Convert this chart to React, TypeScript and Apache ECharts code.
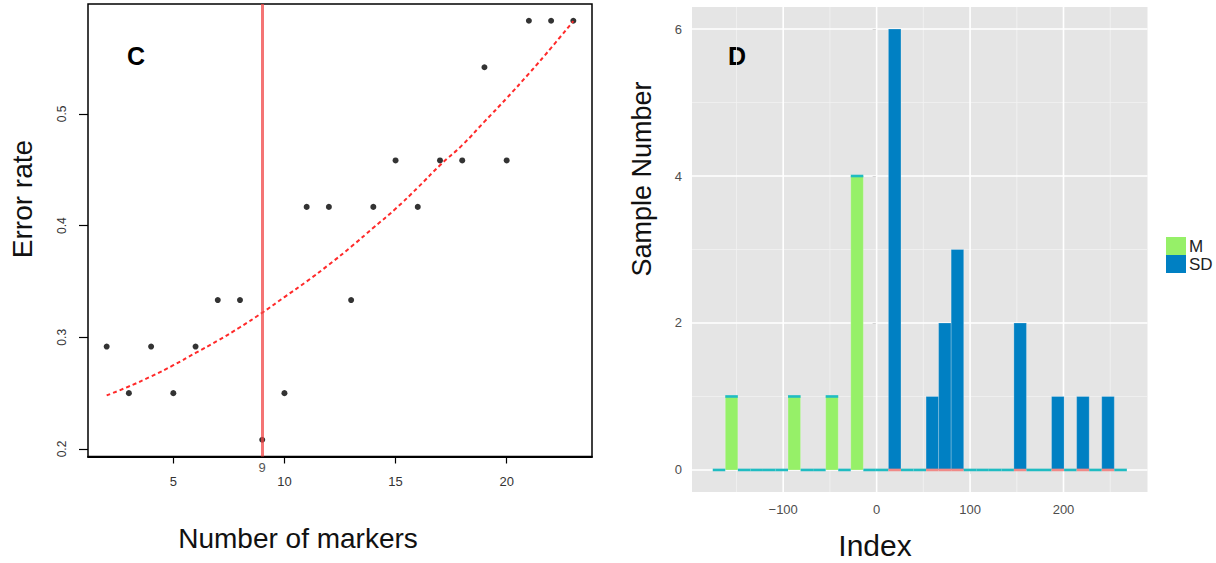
import React, { useEffect, useRef } from "react";
import * as echarts from "echarts";

// ---- Panel C data ----
const markers = [2, 3, 4, 5, 6, 7, 8, 9, 10, 11, 12, 13, 14, 15, 16, 17, 18, 19, 20, 21, 22, 23];
const errorRate = [
  0.2917, 0.25, 0.2917, 0.25, 0.2917, 0.3333, 0.3333, 0.2083, 0.25, 0.4167, 0.4167,
  0.3333, 0.4167, 0.4583, 0.4167, 0.4583, 0.4583, 0.5417, 0.4583, 0.5833, 0.5833, 0.5833,
];
const fittedRate = [
  0.248, 0.256, 0.265, 0.275, 0.286, 0.297, 0.309, 0.322, 0.336, 0.35, 0.365,
  0.381, 0.398, 0.415, 0.434, 0.454, 0.472, 0.493, 0.514, 0.536, 0.559, 0.583,
];
const chosenMarkers = 9;
const cXTicks = [5, 10, 15, 20];
const cYTicks = [0.2, 0.3, 0.4, 0.5];

// ---- Panel D data (histogram) ----
const binStart = -175.4;
const binWidth = 13.43;
const countM = [0, 1, 0, 0, 0, 0, 1, 0, 0, 1, 0, 4, 0, 0, 0, 0, 0, 0, 0, 0, 0, 0, 0, 0, 0, 0, 0, 0, 0, 0, 0, 0, 0];
const countSD = [0, 0, 0, 0, 0, 0, 0, 0, 0, 0, 0, 0, 0, 0, 6, 0, 0, 1, 2, 3, 0, 0, 0, 0, 2, 0, 0, 1, 0, 1, 0, 1, 0];
const dXTicks = [-100, 0, 100, 200];
const dXMinor = [-150, -50, 50, 150, 250];
const dYTicks = [0, 2, 4, 6];
const dYMinor = [1, 3, 5];
const groups = ["M", "SD"];

const FONT = "'Liberation Sans', Arial, Helvetica, sans-serif";
const GREEN = "#96f068";
const BLUE = "#0080c3";
const CYAN = "#20bcc2";
const PINK = "#f08a88";

export default function App() {
  const ref = useRef<HTMLDivElement>(null);

  useEffect(() => {
    document.body.style.margin = "0";
    if (!ref.current) return;
    const chart = echarts.init(ref.current, undefined, { renderer: "svg" });

    const edges = countM.map((_, i) => [binStart + i * binWidth, binStart + (i + 1) * binWidth]);
    const mData = edges.map((e, i) => [e[0], e[1], 0, countM[i]]);
    const sdData = edges.map((e, i) => [e[0], e[1], countM[i], countM[i] + countSD[i]]);
    const stripData = edges.map((e, i) => [e[0], e[1], countSD[i] > 0 ? 0 : countM[i], countSD[i] > 0 ? 1 : 0]);
    const gridData = [
      ...dXMinor.map((v) => [v, 0, 0]),
      ...dYMinor.map((v) => [v, 1, 0]),
      ...dXTicks.map((v) => [v, 0, 1]),
      ...dYTicks.map((v) => [v, 1, 1]),
    ];

    const barRender = (color: string) => (params: any, api: any) => {
      const lo = api.value(2);
      const hi = api.value(3);
      if (hi - lo <= 0) return null;
      const p0 = api.coord([api.value(0), lo]);
      const p1 = api.coord([api.value(1), hi]);
      return {
        type: "rect",
        shape: { x: p0[0], y: p1[1], width: p1[0] - p0[0], height: p0[1] - p1[1] },
        style: { fill: color, stroke: "rgba(255,255,255,0.22)", lineWidth: 1 },
      };
    };

    const option: any = {
      animation: false,
      textStyle: { fontFamily: FONT },
      grid: [
        { left: 88, top: 4, width: 504, height: 452.5, show: true, borderColor: "#000", borderWidth: 1.5, backgroundColor: "transparent" },
        { left: 692, top: 7, width: 455.5, height: 485, show: true, borderWidth: 0, backgroundColor: "#e5e5e5" },
      ],
      xAxis: [
        {
          gridIndex: 0, type: "value", min: 1.16, max: 23.84, position: "bottom",
          axisLine: { show: true, lineStyle: { color: "#000", width: 2 } },
          axisTick: { show: true, customValues: cXTicks, length: 7, lineStyle: { color: "#000", width: 1.2 } },
          axisLabel: { customValues: cXTicks, margin: 18, fontSize: 13, color: "#333", fontFamily: FONT },
          splitLine: { show: false },
        },
        {
          gridIndex: 0, type: "value", min: 1.16, max: 23.84, position: "bottom", offset: 0,
          axisLine: { show: false }, axisTick: { show: false },
          axisLabel: { customValues: [chosenMarkers], margin: 4, fontSize: 13, color: "#555", fontFamily: FONT },
          splitLine: { show: false },
        },
        {
          gridIndex: 1, type: "value", min: -197.6, max: 289.9,
          axisLine: { show: false },
          axisTick: { show: true, customValues: dXTicks, length: 4, lineStyle: { color: "#555", width: 1 } },
          axisLabel: {
            customValues: dXTicks, margin: 11, fontSize: 13, color: "#4d4d4d", fontFamily: FONT,
            formatter: (v: number) => (v < 0 ? "\u2212" + Math.abs(v) : String(v)),
          },
          splitLine: { show: false },
        },
      ],
      yAxis: [
        {
          gridIndex: 0, type: "value", min: 0.1933, max: 0.5983,
          axisLine: { show: false },
          axisTick: { show: true, customValues: cYTicks, length: 9, lineStyle: { color: "#000", width: 1.2 } },
          axisLabel: {
            customValues: cYTicks, rotate: 90, margin: 20, fontSize: 12, color: "#333", fontFamily: FONT,
            formatter: (v: number) => v.toFixed(1),
          },
          splitLine: { show: false },
        },
        {
          gridIndex: 1, type: "value", min: -0.3, max: 6.3,
          axisLine: { show: false },
          axisTick: { show: true, customValues: dYTicks, length: 4, lineStyle: { color: "#555", width: 1 } },
          axisLabel: { customValues: dYTicks, margin: 10, fontSize: 13, color: "#4d4d4d", fontFamily: FONT },
          splitLine: { show: false },
        },
      ],
      legend: {
        orient: "vertical", left: 1166, top: 237, itemGap: 0, itemWidth: 20, itemHeight: 18, padding: 0,
        icon: "rect", data: groups,
        textStyle: { fontSize: 17, color: "#222", fontFamily: FONT, padding: [0, 0, 0, -2] },
      },
      series: [
        {
          type: "line", name: "fit", xAxisIndex: 0, yAxisIndex: 0,
          data: markers.map((m, i) => [m, fittedRate[i]]),
          showSymbol: false, smooth: true, silent: true, z: 3,
          lineStyle: { color: "#ff2a2a", width: 2, type: [4, 3] },
        },
        {
          type: "scatter", name: "points", xAxisIndex: 0, yAxisIndex: 0,
          data: markers.map((m, i) => [m, errorRate[i]]),
          symbolSize: 6, itemStyle: { color: "#000" }, z: 2,
          markLine: {
            silent: true, symbol: "none", label: { show: false },
            lineStyle: { color: "rgba(240,70,70,0.75)", width: 3, type: "solid" },
            data: [{ xAxis: chosenMarkers }],
          },
        },
        {
          type: "custom", name: "grid", xAxisIndex: 2, yAxisIndex: 1, silent: true, z: 1,
          data: gridData,
          renderItem: (params: any, api: any) => {
            const cs = params.coordSys;
            const v = api.value(0);
            const major = api.value(2) === 1;
            const style = { stroke: major ? "#ffffff" : "#f3f3f3", lineWidth: major ? 1.6 : 0.8 };
            if (api.value(1) === 0) {
              const px = api.coord([v, 0])[0];
              return { type: "line", shape: { x1: px, y1: cs.y, x2: px, y2: cs.y + cs.height }, style };
            }
            const py = api.coord([0, v])[1];
            return { type: "line", shape: { x1: cs.x, y1: py, x2: cs.x + cs.width, y2: py }, style };
          },
        },
        {
          type: "custom", name: "M", xAxisIndex: 2, yAxisIndex: 1, z: 2,
          itemStyle: { color: GREEN }, data: mData, renderItem: barRender(GREEN),
        },
        {
          type: "custom", name: "SD", xAxisIndex: 2, yAxisIndex: 1, z: 2,
          itemStyle: { color: BLUE }, data: sdData, renderItem: barRender(BLUE),
        },
        {
          type: "custom", name: "strip", xAxisIndex: 2, yAxisIndex: 1, z: 3, silent: true,
          data: stripData,
          renderItem: (params: any, api: any) => {
            const p0 = api.coord([api.value(0), api.value(2)]);
            const p1 = api.coord([api.value(1), api.value(2)]);
            return {
              type: "rect",
              shape: { x: p0[0], y: p0[1] - 1.3, width: p1[0] - p0[0], height: 2.6 },
              style: { fill: api.value(3) === 1 ? PINK : CYAN },
            };
          },
        },
      ],
      graphic: [
        { type: "text", x: 136, y: 56, style: { text: "C", font: `bold 25px ${FONT}`, fill: "#000", align: "center", verticalAlign: "middle" } },
        { type: "text", x: 737, y: 56, style: { text: "D", font: `bold 25px ${FONT}`, fill: "#000", align: "center", verticalAlign: "middle" } },
        { type: "text", x: 298, y: 538, style: { text: "Number of markers", font: `28px ${FONT}`, fill: "#111", align: "center", verticalAlign: "middle" } },
        { type: "text", x: 22, y: 199, rotation: Math.PI / 2, style: { text: "Error rate", font: `28px ${FONT}`, fill: "#111", align: "center", verticalAlign: "middle" } },
        { type: "text", x: 875, y: 545, style: { text: "Index", font: `30px ${FONT}`, fill: "#111", align: "center", verticalAlign: "middle" } },
        { type: "text", x: 642, y: 179, rotation: Math.PI / 2, style: { text: "Sample Number", font: `27px ${FONT}`, fill: "#111", align: "center", verticalAlign: "middle" } },
      ],
    };

    chart.setOption(option);
    return () => chart.dispose();
  }, []);

  return <div ref={ref} style={{ width: 1216, height: 563 }} />;
}
